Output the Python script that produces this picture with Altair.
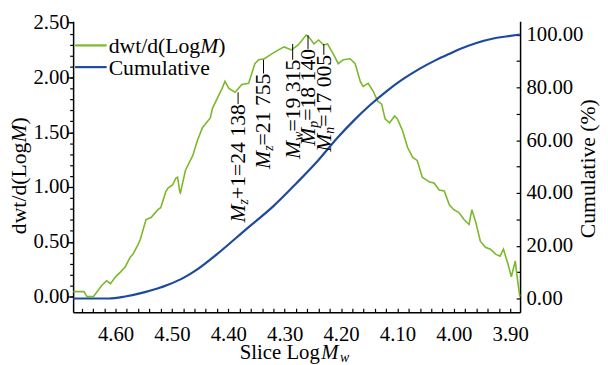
import math
import altair as alt
import pandas as pd

# ---------------- data ----------------
green_logm = [4.675, 4.656, 4.651, 4.639, 4.625, 4.616, 4.609, 4.600, 4.591, 4.583,
              4.574, 4.569, 4.560, 4.556, 4.546, 4.537, 4.525, 4.520, 4.511, 4.507,
              4.499, 4.493, 4.490, 4.486, 4.485, 4.476, 4.463, 4.455, 4.446, 4.432,
              4.428, 4.411, 4.406, 4.399, 4.388, 4.376, 4.364, 4.353, 4.346, 4.336,
              4.323, 4.311, 4.301, 4.288, 4.276, 4.262, 4.257, 4.248, 4.240, 4.231,
              4.224, 4.213, 4.205, 4.196, 4.184, 4.175, 4.166, 4.161, 4.152, 4.143,
              4.135, 4.128, 4.122, 4.114, 4.105, 4.100, 4.091, 4.082, 4.073, 4.065,
              4.056, 4.043, 4.035, 4.026, 4.017, 4.008, 4.000, 3.991, 3.982, 3.973,
              3.968, 3.961, 3.953, 3.944, 3.935, 3.926, 3.918, 3.912, 3.904, 3.898,
              3.891, 3.888, 3.883]
green_dwt = [0.045, 0.045, 0.000, 0.000, 0.099, 0.144, 0.117, 0.180, 0.225, 0.270,
             0.360, 0.387, 0.477, 0.523, 0.703, 0.721, 0.793, 0.811, 0.955, 0.991,
             1.018, 1.081, 1.090, 0.955, 0.946, 1.153, 1.288, 1.423, 1.541, 1.631,
             1.721, 1.901, 1.964, 1.901, 1.865, 1.937, 1.946, 2.126, 2.162, 2.171,
             2.216, 2.252, 2.279, 2.252, 2.297, 2.387, 2.369, 2.306, 2.342, 2.297,
             2.306, 2.207, 2.126, 2.162, 2.171, 2.126, 1.964, 1.919, 1.946, 1.874,
             1.784, 1.757, 1.622, 1.586, 1.649, 1.622, 1.514, 1.360, 1.270, 1.243,
             1.090, 1.045, 1.036, 0.973, 0.964, 0.838, 0.793, 0.766, 0.703, 0.658,
             0.793, 0.676, 0.505, 0.450, 0.432, 0.387, 0.369, 0.432, 0.297, 0.180,
             0.324, 0.189, 0.000]

cum_logm = [4.675, 4.612, 4.583, 4.548, 4.507, 4.478, 4.455, 4.420, 4.367, 4.320,
            4.280, 4.240, 4.206, 4.178, 4.149, 4.119, 4.091, 4.061, 4.031, 4.009,
            3.988, 3.960, 3.930, 3.900, 3.883]
cum_pct = [0.0, 0.0, 0.75, 2.4, 5.2, 8.0, 11.0, 16.8, 26.5, 35.0,
           43.5, 52.5, 61.0, 67.3, 73.2, 78.6, 83.0, 87.0, 90.4, 92.6,
           94.6, 96.8, 98.5, 99.5, 100.0]

avg_values = [24138, 21755, 19315, 18140, 17005]
avg_sub = ["z", "z", "w", "p", "n"]
avg_rest = ["+1=24 138", "=21 755", "=19 315", "=18 140", "=17 005"]
leader_top = [1.865, 2.162, 2.306, 2.387, 2.306]
label_top = [1.757, 2.036, 2.162, 2.261, 2.207]

x_major = [4.60, 4.50, 4.40, 4.30, 4.20, 4.10, 4.00, 3.90]
x_minor = [round(3.90 + 0.02 * i, 2) for i in range(39)]
yl_major = [0.0, 0.5, 1.0, 1.5, 2.0, 2.5]
yl_minor = [round(0.1 * i, 1) for i in range(26)]
yr_major = [0, 20, 40, 60, 80, 100]
yr_minor = list(range(0, 101, 10))

# ---------------- layout / style ----------------
FONT = "Liberation Serif"
GREEN = "#7bb82a"
BLUE = "#1d4a9b"
W, H = 453, 295
X_DOMAIN = [3.8825, 4.6753]
YL_DOMAIN = [-0.144, 2.5135]
YR_DOMAIN = [-5.23, 105.05]

REG = {' ': 0.25, '+': 0.564, '=': 0.564, 'S': 0.556, 'l': 0.278, 'i': 0.278, 'c': 0.444,
       'e': 0.444, 'L': 0.611, 'o': 0.5, 'g': 0.5, 'd': 0.5, 'w': 0.722, 't': 0.278,
       '/': 0.278, '(': 0.333, ')': 0.333}
ITA = {'M': 0.833, 'z': 0.389, 'w': 0.667, 'p': 0.5, 'n': 0.5}


def tw(s, size, italic=False):
    table = ITA if italic else REG
    return sum(table.get(c, 0.5) for c in s) * size


def xs():
    return alt.Scale(domain=X_DOMAIN, reverse=True, nice=False, zero=False)


def yl():
    return alt.Scale(domain=YL_DOMAIN, nice=False, zero=False)


def yr():
    return alt.Scale(domain=YR_DOMAIN, nice=False, zero=False)


gdf = pd.DataFrame({"logm": green_logm, "dwt": green_dwt})
cdf = pd.DataFrame({"logm": cum_logm, "cum": cum_pct})
ldf = pd.DataFrame({"logm": [math.log10(v) for v in avg_values], "sub": avg_sub,
                    "rest": avg_rest, "lead": leader_top, "top": label_top})
one = pd.DataFrame({"k": [0]})

layers = []

# green line with bottom + left axes
layers.append(alt.Chart(gdf).mark_line(color=GREEN, strokeWidth=1.6).encode(
    x=alt.X("logm:Q", scale=xs(), axis=alt.Axis(
        orient="bottom", values=x_major, format=".2f", ticks=False, tickSize=0,
        labelPadding=12, domainWidth=1.5, title=None, labelFlush=False, labelOverlap=False)),
    y=alt.Y("dwt:Q", scale=yl(), axis=alt.Axis(
        orient="left", values=yl_major, format=".2f", ticks=False, tickSize=0,
        labelPadding=4, domainWidth=1.5, title=None, labelOverlap=False)),
))

# blue cumulative line with right axis
layers.append(alt.Chart(cdf).mark_line(color=BLUE, strokeWidth=2.2, interpolate="monotone").encode(
    x=alt.X("logm:Q", scale=xs(), axis=None),
    y=alt.Y("cum:Q", scale=yr(), axis=alt.Axis(
        orient="right", values=yr_major, format=".2f", ticks=False, tickSize=0,
        labelPadding=6, domainWidth=1.5, labelOverlap=False,
        title="Cumulative (%)", titleAngle=270, titleX=68, titleY=149,
        titleAlign="center", titleBaseline="middle", titleFont=FONT,
        titleFontSize=22, titleFontWeight="normal", titleColor="black")),
))

# tick-only axes
inv = alt.Chart(gdf).mark_line(strokeOpacity=0)
layers.append(inv.encode(
    x=alt.X("logm:Q", scale=xs(), axis=None),
    y=alt.Y("dwt:Q", scale=yl(), axis=alt.Axis(
        orient="left", values=yl_major, tickSize=6, labels=False, domain=False, title=None))))
layers.append(inv.encode(
    x=alt.X("logm:Q", scale=xs(), axis=None),
    y=alt.Y("dwt:Q", scale=yl(), axis=alt.Axis(
        orient="left", values=yl_minor, tickSize=3.5, labels=False, domain=False, title=None))))
layers.append(alt.Chart(cdf).mark_line(strokeOpacity=0).encode(
    x=alt.X("logm:Q", scale=xs(), axis=None),
    y=alt.Y("cum:Q", scale=yr(), axis=alt.Axis(
        orient="left", offset=-W, values=yr_minor, tickSize=4, labels=False,
        domain=False, title=None))))
layers.append(inv.encode(
    x=alt.X("logm:Q", scale=xs(), axis=alt.Axis(
        orient="top", offset=-H, values=x_minor, tickSize=4, labels=False,
        domain=False, title=None)),
    y=alt.Y("dwt:Q", scale=yl(), axis=None)))

# leader lines
layers.append(alt.Chart(ldf).mark_rule(color="black", strokeWidth=1).encode(
    x=alt.X("logm:Q", scale=xs(), axis=None),
    y=alt.Y("lead:Q", scale=yl(), axis=None),
    y2="top:Q"))

# rotated average molecular weight labels
for i in range(len(avg_values)):
    row = ldf.iloc[[i]]
    w_rest = tw(avg_rest[i], 22)
    w_sub = tw(avg_sub[i], 14, True)
    base = alt.Chart(row).encode(
        x=alt.X("logm:Q", scale=xs(), axis=None),
        y=alt.Y("top:Q", scale=yl(), axis=None))
    layers.append(base.mark_text(angle=270, align="right", baseline="middle", font=FONT,
                                 fontSize=22, color="black").encode(text="rest:N"))
    layers.append(base.mark_text(angle=270, align="right", baseline="middle", font=FONT,
                                 fontSize=14, fontStyle="italic", color="black",
                                 dx=-w_rest, dy=6).encode(text="sub:N"))
    layers.append(base.mark_text(angle=270, align="right", baseline="middle", font=FONT,
                                 fontSize=22, fontStyle="italic", color="black",
                                 dx=-(w_rest + w_sub)).encode(text=alt.value("M")))

# legend
layers.append(alt.Chart(one).mark_rule(color=GREEN, strokeWidth=2.2).encode(
    x=alt.value(2), x2=alt.value(34), y=alt.value(24.5)))
layers.append(alt.Chart(one).mark_rule(color=BLUE, strokeWidth=2.2).encode(
    x=alt.value(2), x2=alt.value(34), y=alt.value(46.5)))
txt = dict(font=FONT, fontSize=22, color="black", baseline="middle")
w_leg = tw("dwt/d(Log", 22)
layers.append(alt.Chart(one).mark_text(align="left", **txt).encode(
    x=alt.value(36), y=alt.value(25), text=alt.value("dwt/d(Log")))
layers.append(alt.Chart(one).mark_text(align="left", fontStyle="italic", **txt).encode(
    x=alt.value(36 + w_leg), y=alt.value(25), text=alt.value("M")))
layers.append(alt.Chart(one).mark_text(align="left", **txt).encode(
    x=alt.value(36 + w_leg + tw("M", 22, True)), y=alt.value(25), text=alt.value(")")))
layers.append(alt.Chart(one).mark_text(align="left", **txt).encode(
    x=alt.value(36), y=alt.value(47), text=alt.value("Cumulative")))

# left axis title (rotated, italic M)
lt = dict(font=FONT, fontSize=22, color="black", baseline="middle", angle=270)
layers.append(alt.Chart(one).mark_text(align="right", **lt).encode(
    x=alt.value(-55), y=alt.value(123), text=alt.value("dwt/d(Log")))
layers.append(alt.Chart(one).mark_text(align="left", fontStyle="italic", **lt).encode(
    x=alt.value(-55), y=alt.value(123), text=alt.value("M")))
layers.append(alt.Chart(one).mark_text(align="left", dx=tw("M", 22, True), **lt).encode(
    x=alt.value(-55), y=alt.value(123), text=alt.value(")")))

# bottom axis title (italic M with subscript w)
bt = dict(font=FONT, color="black", baseline="alphabetic")
layers.append(alt.Chart(one).mark_text(align="right", fontSize=21, **bt).encode(
    x=alt.value(250), y=alt.value(342), text=alt.value("Slice Log")))
layers.append(alt.Chart(one).mark_text(align="left", fontSize=21, fontStyle="italic", **bt).encode(
    x=alt.value(251.5), y=alt.value(342), text=alt.value("M")))
layers.append(alt.Chart(one).mark_text(align="left", fontSize=14, fontStyle="italic", dy=3, **bt).encode(
    x=alt.value(253 + tw("M", 21, True)), y=alt.value(342), text=alt.value("w")))

chart = alt.layer(*layers).resolve_scale(x="independent", y="independent").properties(
    width=W, height=H,
    padding={"left": 66, "top": 11, "right": 81, "bottom": 51},
    autosize=alt.AutoSizeParams(type="none"),
).configure_view(stroke=None).configure_axis(
    labelFont=FONT, labelFontSize=21, labelColor="black", domainColor="black",
    tickColor="black", tickWidth=1.2, grid=False)

chart.save("out.html", embed_options={"renderer": "svg", "actions": False})
